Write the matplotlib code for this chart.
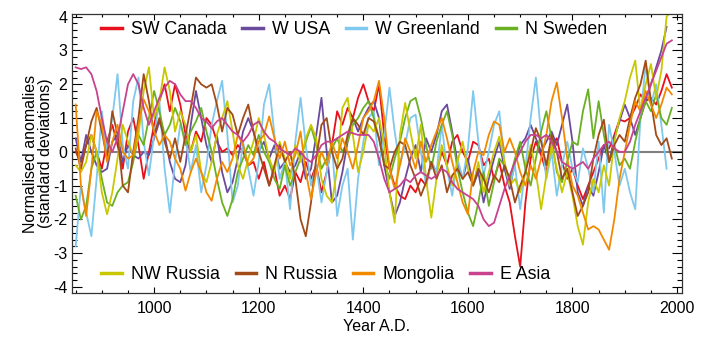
import numpy as np
import matplotlib
matplotlib.use("Agg")
import matplotlib.pyplot as plt
from matplotlib.ticker import MultipleLocator

plt.rcParams['font.family'] = ['Liberation Sans', 'DejaVu Sans']
plt.rcParams['axes.unicode_minus'] = False

# decadal values, 850 ... 1990
years = np.arange(850, 2000, 10)

sw_canada = [
    0.0, -0.3, 0.2, 0.5, 0.0,
    -0.5, 0.3, 0.8, 0.2, -0.5, 0.6, 1.0, 0.2, -0.8, 0.0,
    0.8, 1.5, 2.0, 1.2, 2.0, 1.4, 0.5, 0.0, 0.6, 0.3,
    1.0, 0.8, 0.3, 0.0, 0.1, -0.1, 0.2, 0.0, -0.4, -0.3,
    -0.8, -0.3, -1.0, -0.5, -1.3, -1.0, -1.4, -0.6, -0.9, -0.3,
    -0.8, -0.4, -1.2, -0.6, 0.2, 1.2, 0.8, 1.3, 1.0, 1.6,
    2.0, 1.5, 1.2, 2.0, 0.5, -0.5, -1.0, -1.3, -1.4, -1.0,
    -1.2, -0.8, -1.0, -0.3, -0.6, 0.0, -0.4, 0.3, 0.5, 0.0,
    -0.3, 0.3, 0.2, -0.4, -0.2, -0.8, -0.3, -1.0, -1.5, -2.5,
    -3.4, -1.5, -0.2, 0.3, -0.1, -0.6, 0.2, 0.4, -0.3, -0.8,
    -0.5, -1.0, -1.4, -1.0, -0.6, -0.2, 0.2, 0.1, 0.5, 0.95,
    0.9, 1.0, 1.3, 1.7, 1.5, 1.6, 1.4, 1.8, 2.3, 1.9]

w_usa = [
    0.4, -0.3, 0.5, 0.0, -0.4,
    -0.6, -0.5, 0.3, 0.5, -0.3, 0.2, -0.1, -0.2, 0.0, -0.1,
    0.4, 0.9, 0.5, -0.3, -0.8, -0.9, -0.4, 0.8, 1.8, 1.0,
    0.2, -0.3, 0.5, -0.6, -1.2, -0.9, -0.2, 0.6, 1.0, 0.6,
    0.0, 0.3, -0.2, 0.2, -0.5, -0.3, -0.6, -0.4, 0.0, -0.8,
    -0.5, 0.5, 1.6, 0.0, -1.5, -1.3, -0.6, 0.3, 1.0, 0.6,
    1.0, 1.3, 1.5, 1.0, -0.4, -1.2, -1.9, -1.5, -0.8, -0.2,
    0.2, -0.6, 0.4, 0.0, 0.5, 1.2, 1.4, 0.6, -0.3, -0.8,
    -0.2, -1.0, -0.6, -1.5, -0.8, -0.2, 0.3, -0.5, -1.1, -0.3,
    0.2, 0.4, 0.8, 0.4, 0.0, 0.3, 0.6, 0.2, 0.8, 1.4,
    0.3, -1.2, -1.6, -1.0, -1.3, -0.6, 0.2, -0.3, 0.4, 0.9,
    1.4, 1.0, 0.5, 1.0, 1.5, 2.0, 2.5, 3.0, 3.7, np.nan]

w_greenland = [
    -2.8, -1.0, -1.8, -2.5, -0.8,
    1.2, 0.0, 1.0, 2.3, 0.2, -0.5, 1.5, 2.2, 0.3, -0.7,
    0.5, 1.5, -0.5, -1.8, -0.3, 0.8, 0.4, -0.6, 0.2, -1.2,
    -0.4, 0.8, 1.5, 2.1, 0.5, -1.5, -1.0, 0.3, -0.5, -1.3,
    -0.3, 1.4, 2.0, 0.5, -0.8, -0.3, -1.7, 0.3, 1.6, 0.2,
    -1.0, -0.4, -1.5, -0.6, 0.2, -1.9, -1.0, -0.5, -2.6, -0.8,
    0.3, 1.0, 1.2, -0.4, 0.5, 1.9, 0.6, -0.4, 0.2, 1.0,
    1.1, 0.0, -1.0, -0.3, -0.6, 0.8, -0.5, -1.3, -0.2, -0.8,
    0.1, 1.8, 0.3, -0.7, 0.0, 0.8, 1.2, -0.3, -1.0, -0.4,
    -1.7, -0.5, 1.0, 2.2, 0.5, -0.8, 0.0, -1.3, -0.4, 0.3,
    -0.5, -0.9, 0.1, -0.5, -1.2, 0.3, -1.8, 0.8, 0.0, -1.0,
    -0.5, -1.2, -1.7, 1.0, 2.6, 1.4, 2.0, 0.8, -0.5, np.nan]

n_sweden = [
    -1.3, -2.0, -1.6, -0.5, 0.0,
    -0.8, -1.5, -1.6, -1.2, -1.0, -0.9, -0.3, 0.5, 0.2, 1.0,
    1.8, 1.2, 0.5, 0.8, 1.3, 0.9, 0.2, 0.6, 0.9, 1.3,
    0.6, 0.0, -0.8, -1.5, -1.9, -1.4, -0.6, -0.2, 0.2, -0.1,
    0.5, 0.0, -0.3, -0.8, -1.1, -0.4, -1.0, -0.6, -0.2, 0.3,
    0.75, 0.2, -0.5, -0.2, 0.1, 0.4, 0.0, 0.3, 0.8, 1.0,
    1.3, 1.5, 1.0, 0.4, -0.3, -0.8, -0.2, 0.3, 1.0, 1.5,
    1.6, 1.0, 0.2, -0.5, 0.3, 0.8, 1.2, 0.5, -0.5, -1.2,
    -1.8, -2.2, -1.5, -0.6, -1.6, -0.9, -0.2, -0.4, -0.8, -0.2,
    0.3, -0.5, -1.0, -0.2, 0.6, 1.2, 0.4, -0.6, -0.9, -0.3,
    0.3, 0.2, 1.2, 1.85, 0.4, 1.5, 0.5, -0.3, 0.2, -0.4,
    -0.2, -0.5, 0.3, 1.0, 1.5, 1.2, 1.7, 1.0, 0.8, 1.3]

nw_russia = [
    -0.4, -0.6, -0.3, 0.5, 0.0,
    -1.2, -1.85, -1.2, -0.2, 0.8, 0.3, -0.1, 0.5, 1.8, 2.5,
    1.0, 1.5, 2.5, 1.8, 0.6, 1.2, 0.8, 0.0, 0.5, -0.6,
    -0.9, -0.3, 0.5, 1.0, 1.5, 0.6, -0.4, -0.8, -0.2, 0.3,
    1.0, 0.5, -0.2, -0.6, 0.3, -0.2, -0.8, 0.2, -0.3, 0.4,
    0.8, 0.4, -0.8, -1.3, -1.5, -0.5, 1.3, 1.6, 0.5, -0.6,
    0.0, 0.8, 0.6, 1.0, 0.2, -1.2, -2.1, 0.5, 1.45, 0.6,
    -0.2, 0.8, -0.8, -1.95, -0.8, 0.2, -0.4, -1.0, -0.3, 0.3,
    -0.5, -1.0, -0.3, -1.2, -0.6, 0.0, 0.45, -0.3, -1.0, -0.8,
    -1.2, -0.6, 0.2, -0.6, -1.7, -0.7, 0.2, -0.5, -1.2, -0.6,
    -1.3, -2.2, -2.75, -1.5, -0.8, -1.2, -0.4, -1.0, 0.3, 1.0,
    1.5, 2.2, 2.7, 1.2, 2.0, 2.6, 1.6, 2.4, 4.0, 4.2]

n_russia = [
    0.1, -0.5, 0.2, 0.9, 1.3,
    0.6, -0.2, 1.2, 0.5, -1.0, -1.2, 0.0, 1.0, 2.3, 1.5,
    0.5, 1.0, 0.3, -0.2, 0.4, -0.3, 0.5, 1.3, 2.2, 2.0,
    1.9, 2.0, 1.4, 0.6, 1.3, 1.1, 0.5, 1.0, 1.4, 0.6,
    0.0, -0.5, -1.0, -0.4, 0.2, -0.3, 0.0, -0.8, -2.0, -2.5,
    -1.5, -0.2, 0.8, 1.0, 0.0, -0.5, -0.2, 0.5, 1.0, 0.8,
    0.5, 1.0, 0.9, 0.4, -0.4, -0.5, 0.0, 0.3, 0.2, -0.4,
    -0.8, -1.3, -0.9, -0.3, -0.8, -0.4, -1.2, -0.7, -0.5, -0.8,
    -0.6, -1.0, -0.5, -0.8, -1.2, -0.7, -0.9, -0.4, -0.8, -1.5,
    -1.0, -0.6, 0.0, 0.7, 0.3, -0.4, 0.5, 0.0, -0.8, -0.5,
    -1.2, -1.9, -1.6, -1.2, -0.2, 0.5, 0.95, -0.3, 0.2, 0.5,
    0.3, 1.0, 1.6, 2.0, 2.7, 1.5, 0.5, 0.2, 0.4, -0.2]

mongolia = [
    1.4, -1.0, -1.9, -0.5, 1.2,
    0.8, -0.3, 0.3, 0.8, 0.0, -0.2, -0.1, 0.8, 1.55, 1.2,
    0.6, 0.2, 0.5, 0.3, -0.2, -0.5, -1.15, -0.6, -0.2, -0.6,
    -1.2, -1.45, -0.8, -0.3, -0.6, -0.2, 0.5, 0.2, -0.4, -0.2,
    0.3, 0.5, 1.05, 0.4, -0.2, 0.3, -0.4, -0.1, 0.6, -0.6,
    -1.4, -0.6, 0.0, -0.4, 0.3, -0.2, 0.4, 0.0, -0.5, 0.2,
    1.0, 1.2, 1.5, 2.1, 1.0, -0.5, -1.1, -0.4, 0.4, 0.0,
    -0.5, 0.3, -0.3, 0.2, 0.6, 1.0, 0.4, -0.3, -0.9, -1.5,
    -1.85, -0.6, 0.0, -0.1, 0.5, 0.9, 0.8, 0.0, 0.4, 0.0,
    -0.6, -1.0, -0.4, -0.8, -0.2, 0.5, 1.5, 2.05, 1.0, -0.2,
    -1.0, -1.3, -1.8, -2.3, -2.2, -2.3, -2.6, -2.9, -2.0, -0.8,
    0.0, 0.8, 1.5, 1.2, 1.8, 1.4, 1.0, 1.4, 1.9, 1.7]

e_asia = [
    2.5, 2.45, 2.5, 2.3, 1.8,
    1.0, 0.3, 0.0, 0.4, 1.2, 2.0, 2.3, 2.0, 1.3, 0.8,
    1.2, 1.6, 1.9, 2.1, 2.0, 1.7, 1.5, 1.5, 1.3, 1.0,
    0.9, 0.7, 0.9, 1.0, 0.8, 0.6, 0.5, 0.3, 0.5, 0.8,
    0.9, 0.6, 0.4, 0.3, 0.1, 0.0, -0.1, 0.1, 0.0, -0.2,
    -0.3, -0.1, 0.2, 0.3, 0.3, 0.4, 0.5, 0.6, 0.55, 0.5,
    0.5, 0.5, 0.3, -0.2, -0.8, -1.2, -1.1, -1.0, -0.8, -0.9,
    -0.7, -0.6, -0.7, -0.8, -0.7, -0.5, -0.6, -0.9, -1.1, -1.2,
    -1.3, -1.4, -1.6, -2.0, -2.2, -2.1, -1.6, -1.1, -0.7, -0.3,
    0.0, 0.3, 0.5, 0.5, 0.4, 0.5, 0.3, 0.0, -0.3, -0.4,
    -0.5, -0.4, -0.3, -0.5, -0.2, 0.0, 0.2, 0.3, 0.1, 0.0,
    0.0, 0.3, 0.8, 1.2, 1.6, 2.0, 2.4, 2.8, 3.2, 3.3]

names = ['SW Canada', 'W USA', 'W Greenland', 'N Sweden',
         'NW Russia', 'N Russia', 'Mongolia', 'E Asia']
colors = ['#e8101c', '#6b4a9e', '#7fc8ee', '#6ab023',
          '#c9c800', '#a24a18', '#f28a00', '#c8428e']
series = [sw_canada, w_usa, w_greenland, n_sweden,
          nw_russia, n_russia, mongolia, e_asia]

fig = plt.figure(figsize=(7.09, 3.39), dpi=100)
ax = fig.add_axes([0.1016, 0.1357, 0.86, 0.823])

ax.axhline(0, color='#808080', lw=1.5, zorder=1)

lines = []
for vals, c, n in zip(series, colors, names):
    ln, = ax.plot(years, vals, color=c, lw=1.3, label=n, zorder=2,
                  solid_joinstyle='round')
    lines.append(ln)

ax.set_xlim(843, 2009)
ax.set_ylim(-4.18, 4.08)
ax.xaxis.set_major_locator(MultipleLocator(200))
ax.xaxis.set_minor_locator(MultipleLocator(50))
ax.yaxis.set_major_locator(MultipleLocator(1))
ax.yaxis.set_minor_locator(MultipleLocator(0.2))
ax.tick_params(axis='both', which='both', direction='in', top=True, right=True,
               labelsize=11.5, width=0.8)
ax.tick_params(axis='y', which='major', length=7)
ax.tick_params(axis='y', which='minor', length=3.5)
ax.tick_params(axis='x', which='major', length=4.5, pad=6)
ax.tick_params(axis='x', which='minor', length=2.5)
for s in ax.spines.values():
    s.set_linewidth(0.9)
    s.set_color('#333333')

ax.set_xlabel('Year A.D.', fontsize=11.5, labelpad=2)
ax.set_ylabel('Normalised anomalies\n(standard deviations)', fontsize=11.5,
              linespacing=0.95, labelpad=0)

leg_kw = dict(ncol=4, frameon=False, fontsize=12.8, handlelength=1.15,
              handletextpad=0.5, columnspacing=0.9, borderpad=0,
              borderaxespad=0, loc='center left')
leg1 = ax.legend(handles=lines[:4], bbox_to_anchor=(0.048, 0.943), **leg_kw)
for h in leg1.legend_handles:
    h.set_linewidth(2.5)
ax.add_artist(leg1)
leg2 = ax.legend(handles=lines[4:], bbox_to_anchor=(0.048, 0.065), **leg_kw)
for h in leg2.legend_handles:
    h.set_linewidth(2.5)

fig.savefig('out.png', dpi=100)
